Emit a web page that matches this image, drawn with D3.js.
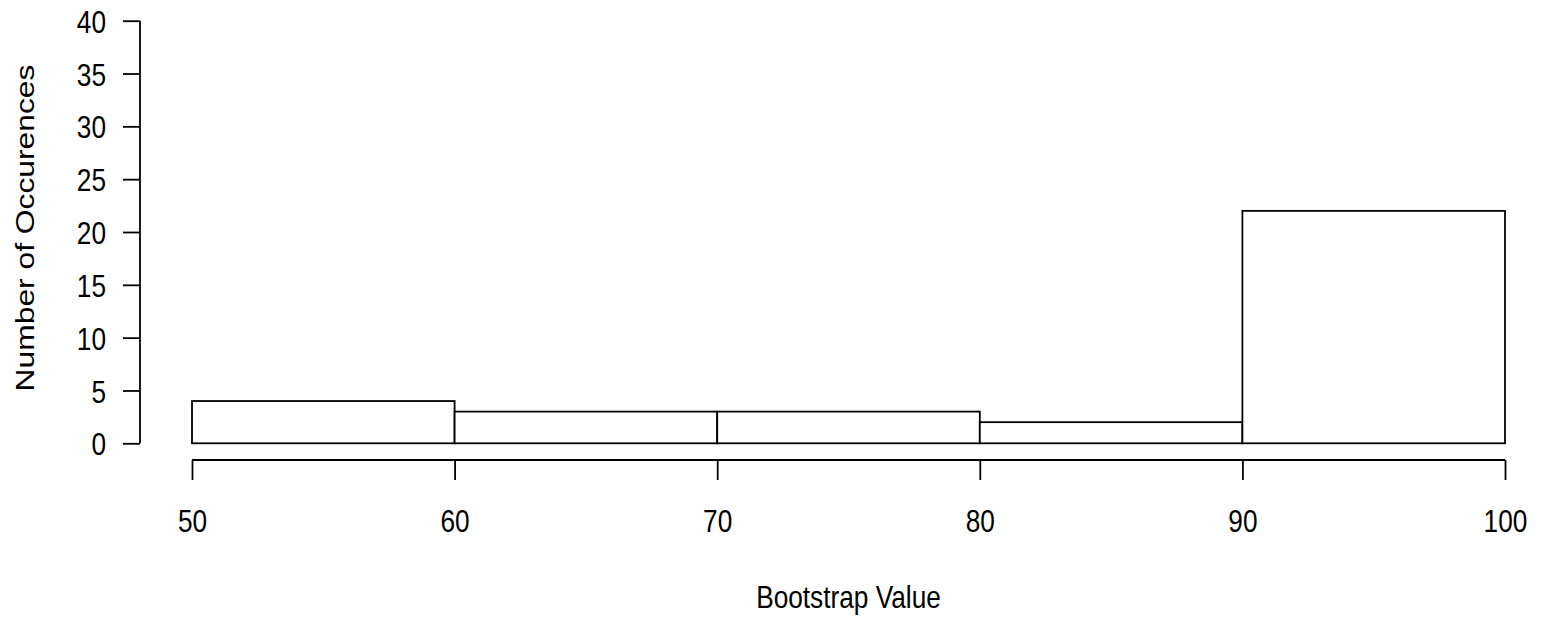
<!DOCTYPE html>
<html>
<head>
<meta charset="utf-8">
<script src="https://cdn.jsdelivr.net/npm/d3@7/dist/d3.min.js"></script>
<style>
  html, body { margin: 0; padding: 0; background: #fff; }
  svg { display: block; }
  text { font-family: "Liberation Sans", Arial, Helvetica, sans-serif; fill: #000; }
</style>
</head>
<body>
<svg id="chart" width="1547" height="621"></svg>
<script>
// Data
const binEdges = [50, 60, 70, 80, 90, 100];
const counts = [4, 3, 3, 2, 22];
const xTicks = [50, 60, 70, 80, 90, 100];
const yTicks = [0, 5, 10, 15, 20, 25, 30, 35, 40];
const xTitle = "Bootstrap Value";
const yTitle = "Number of Occurences";

const W = 1547, H = 621;
const svg = d3.select("#chart");
const FS = 32, SX = 0.82, SW = 1.8;

const x = d3.scaleLinear().domain([50, 100]).range([192, 1505]);
const y = d3.scaleLinear().domain([0, 40]).range([443.3, 20.7]);

const bins = counts.map((c, i) => ({ x0: binEdges[i], x1: binEdges[i + 1], n: c }));

// Bars
svg.append("g").selectAll("rect").data(bins).join("rect")
  .attr("x", d => x(d.x0))
  .attr("y", d => y(d.n))
  .attr("width", d => x(d.x1) - x(d.x0))
  .attr("height", d => y(0) - y(d.n))
  .attr("fill", "#fff")
  .attr("stroke", "#000")
  .attr("stroke-width", SW);

// Y axis
const gy = svg.append("g").attr("transform", "translate(140,0)")
  .call(d3.axisLeft(y).tickValues(yTicks).tickSize(17).tickPadding(17).tickFormat(d3.format("d")));
gy.select(".domain").attr("stroke", "#000").attr("stroke-width", SW)
  .attr("d", `M0,${y(0)}V${y(40)}`);
gy.selectAll(".tick line").attr("stroke", "#000").attr("stroke-width", SW);
gy.selectAll(".tick text")
  .attr("font-size", FS).attr("font-family", null)
  .attr("x", 0).attr("dy", "0.36em")
  .attr("transform", `translate(-34,0) scale(${SX},1)`);

// X axis
const gx = svg.append("g").attr("transform", "translate(0,460)")
  .call(d3.axisBottom(x).tickValues(xTicks).tickSize(20).tickFormat(d3.format("d")));
gx.select(".domain").attr("stroke", "#000").attr("stroke-width", SW)
  .attr("d", `M${x(50)},0H${x(100)}`);
gx.selectAll(".tick line").attr("stroke", "#000").attr("stroke-width", SW);
gx.selectAll(".tick text")
  .attr("font-size", FS).attr("font-family", null)
  .attr("y", 0).attr("dy", 0)
  .attr("transform", `translate(0,72) scale(${SX},1)`);

// Titles
svg.append("text")
  .attr("text-anchor", "middle")
  .attr("font-size", FS)
  .attr("transform", `translate(${(x(50) + x(100)) / 2},608) scale(${SX},1)`)
  .text(xTitle);

svg.append("text")
  .attr("text-anchor", "middle")
  .attr("font-size", 31.8)
  .attr("transform", `translate(34,228) rotate(-90) scale(1,0.8)`)
  .text(yTitle);
</script>
</body>
</html>
